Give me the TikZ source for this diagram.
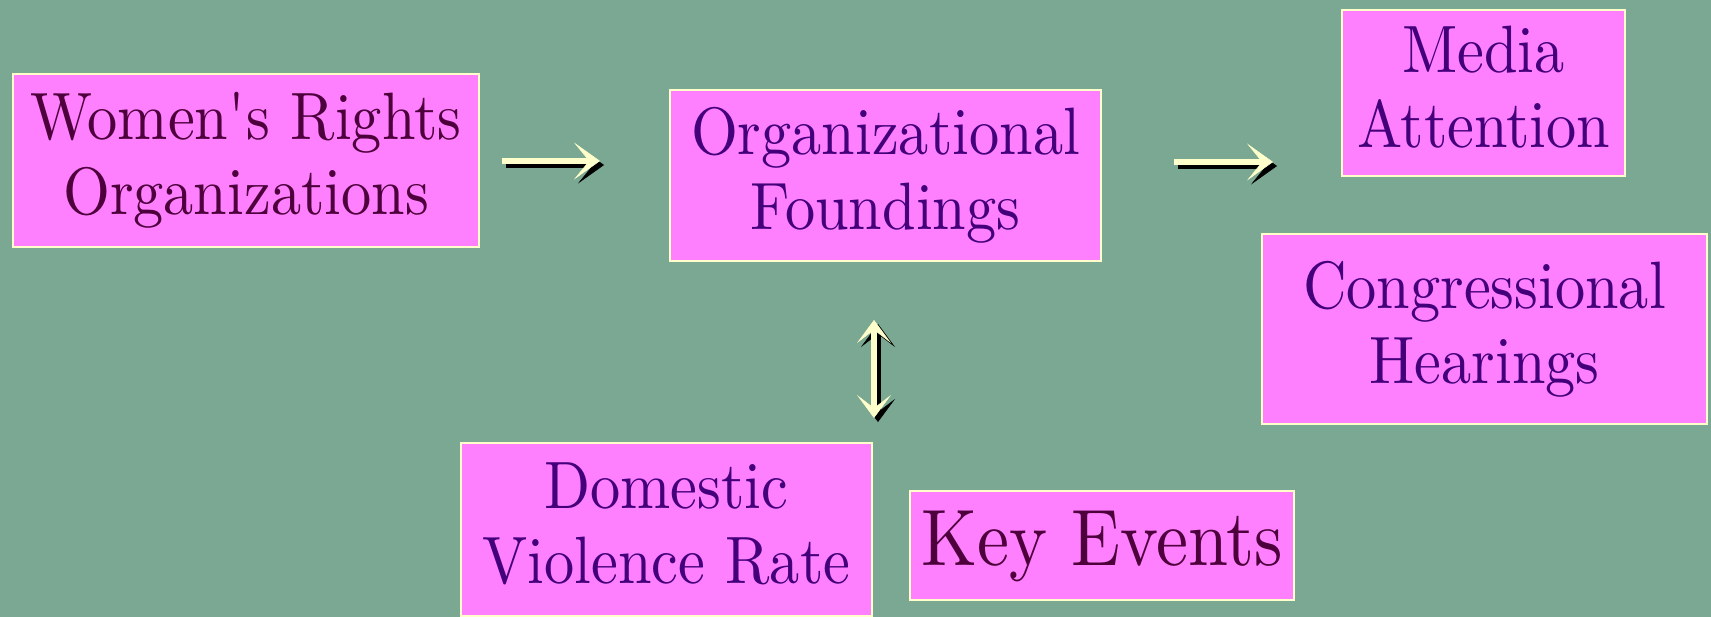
\documentclass[tikz,border=0pt]{standalone}
\usepackage{fontspec}
\setmainfont{lmroman10-regular.otf}[FakeStretch=0.9]
\usetikzlibrary{arrows.meta}
\definecolor{bgcol}{HTML}{7AA892}
\definecolor{boxfill}{HTML}{FF80FF}
\definecolor{boxline}{HTML}{FFFFCC}
\definecolor{arrowcol}{HTML}{FFFFCC}
\definecolor{inktext}{HTML}{44007A}
\definecolor{maroontext}{HTML}{4E003C}
\newcommand\lstrut{\rule[-0.2em]{0pt}{0.9em}}
\newcommand\bigtxt{\fontsize{67}{75}\selectfont}
\newcommand\hugetxt{\fontsize{80}{90}\selectfont}
\begin{document}
\begin{tikzpicture}[x=1pt,y=-1pt,
  boxnode/.style={draw=boxline, line width=2pt, fill=boxfill, inner sep=0pt,
    align=center, text=inktext, font=\bigtxt},
  conn/.style={line width=5.5pt, draw=arrowcol,
    -{Stealth[length=26pt,width=37pt,inset=15pt,line width=0.5pt]}},
  conndbl/.style={line width=5.5pt, draw=arrowcol,
    {Stealth[length=23pt,width=34pt,inset=13pt,line width=0.5pt]}-{Stealth[length=23pt,width=34pt,inset=13pt,line width=0.5pt]}},
  shadowed/.style={draw=black, transform canvas={xshift=4pt,yshift=-4pt}}
]
\fill[bgcol] (0,0) rectangle (1711,617);
\useasboundingbox (0,0) rectangle (1711,617);

\node[boxnode, text=maroontext, minimum width=466pt, minimum height=173pt] (wro) at (246,160.5)
  {\lstrut Women\textquotesingle s Rights\\ \lstrut Organizations};
\node[boxnode, minimum width=431pt, minimum height=171pt] (orgf) at (885.5,175.5)
  {\lstrut Organizational\\ \lstrut Foundings};
\node[boxnode, minimum width=283pt, minimum height=166pt] (media) at (1483.5,93)
  {\lstrut Media\\ \lstrut Attention};
\node[boxnode, minimum width=445pt, minimum height=190pt] (cong) at (1484.5,329)
  {\lstrut Congressional\\ \lstrut Hearings};
\node[boxnode, minimum width=411pt, minimum height=173pt] (dvr) at (666.5,529)
  {\lstrut Domestic\\ \lstrut Violence Rate};
\node[boxnode, text=maroontext, font=\hugetxt, minimum width=384pt, minimum height=109pt] (keyev) at (1102,545.5)
  {\lstrut Key Events};

\coordinate (a1s) at (502,161);
\coordinate (a1e) at (600,161);
\coordinate (a2s) at (1174,162);
\coordinate (a2e) at (1273,162);
\coordinate (a3s) at (874,320);
\coordinate (a3e) at (874,418);

\draw[conn, shadowed] (a1s) -- (a1e);
\draw[conn] (a1s) -- (a1e);
\draw[conn, shadowed] (a2s) -- (a2e);
\draw[conn] (a2s) -- (a2e);
\draw[conndbl, shadowed] (a3s) -- (a3e);
\draw[conndbl] (a3s) -- (a3e);
\end{tikzpicture}
\end{document}
